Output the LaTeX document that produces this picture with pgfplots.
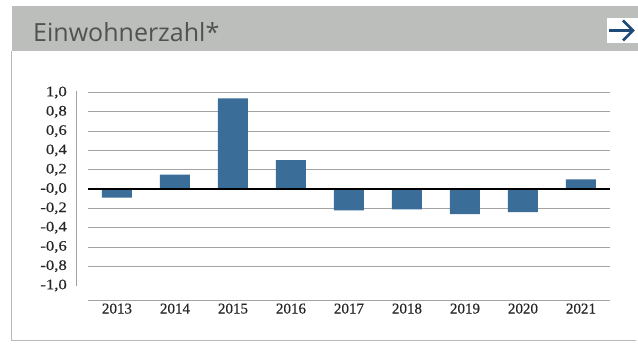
\documentclass[border=0pt]{standalone}
\usepackage{fontspec}
\setmainfont{Liberation Serif}
\newfontfamily\titlefont{Open Sans}
\newfontfamily\ylabelfont[FakeStretch=1.15, FakeBold=0.4]{Liberation Serif}
\newfontfamily\xlabelfont[FakeBold=0.4]{Liberation Serif}
\usepackage{pgfplots}
\pgfplotsset{compat=1.18}
\definecolor{barblue}{HTML}{3A6D98}
\definecolor{headgray}{HTML}{BCBEBB}
\definecolor{gridgray}{HTML}{A3A3A3}
\definecolor{arrowblue}{HTML}{1F4A78}
\definecolor{titletext}{HTML}{505250}
\begin{document}
\begin{tikzpicture}
\begin{axis}[
  width=522pt, height=209.4pt, scale only axis,
  xmin=-0.5, xmax=8.5, ymin=-1.15, ymax=1.02,
  clip=false,
  axis x line*=bottom, axis y line*=left,
  y axis line style={draw=none},
  x axis line style={gridgray, line width=0.8pt},
  major tick length=0pt,
  xtick={0,1,2,3,4,5,6,7,8},
  xticklabels={2013,2014,2015,2016,2017,2018,2019,2020,2021},
  ytick={-0.8,-0.6,-0.4,-0.2,0.2,0.4,0.6,0.8,1.0},
  yticklabels={{-0,8},{-0,6},{-0,4},{-0,2},{0,2},{0,4},{0,6},{0,8},{1,0}},
  extra y ticks={-1,0},
  extra y tick labels={{-1,0},{-0,0}},
  extra y tick style={grid=none},
  ymajorgrids,
  grid style={gridgray, line width=0.7pt},
  tick label style={text=black!85},
  yticklabel style={font=\ylabelfont\fontsize{14.5}{16}\selectfont, anchor=east, inner sep=0pt, xshift=-21pt},
  xticklabel style={font=\xlabelfont\fontsize{15}{17}\selectfont},
]
\coordinate (O) at (rel axis cs:0,0);
\addplot[ybar, bar width=30pt, fill=barblue, draw=none] coordinates {
  (0,-0.09) (1,0.15) (2,0.94) (3,0.30) (4,-0.22) (5,-0.21) (6,-0.26) (7,-0.24) (8,0.10)
};
\draw[black, line width=1.4pt] (axis cs:-0.5,0) -- (axis cs:8.5,0);
\draw[gridgray, line width=0.8pt] ([xshift=-12pt]axis cs:-0.5,1.02) -- ([xshift=-12pt]axis cs:-0.5,-1.0);
\end{axis}
\begin{scope}[shift={(O)}, x=1pt, y=1pt]
\path (-88,-45) rectangle (550,300);
\fill[headgray] (-76,249) rectangle (550,294);
\node[anchor=base west, inner sep=0, text=titletext, font=\titlefont\fontsize{25}{27}\selectfont] at (-55,258.5) {Einwohnerzahl*};
\fill[white] (519,257) rectangle (550,282);
\draw[arrowblue, line width=2.8pt] (521,269.5) -- (544,269.5);
\draw[arrowblue, line width=2.8pt, miter limit=3] (535,279.5) -- (545,269.5) -- (535,259.5);
\draw[gray!55, line width=0.8pt] (-77,249) -- (-77,-40) -- (548,-40);
\end{scope}
\end{tikzpicture}
\end{document}
